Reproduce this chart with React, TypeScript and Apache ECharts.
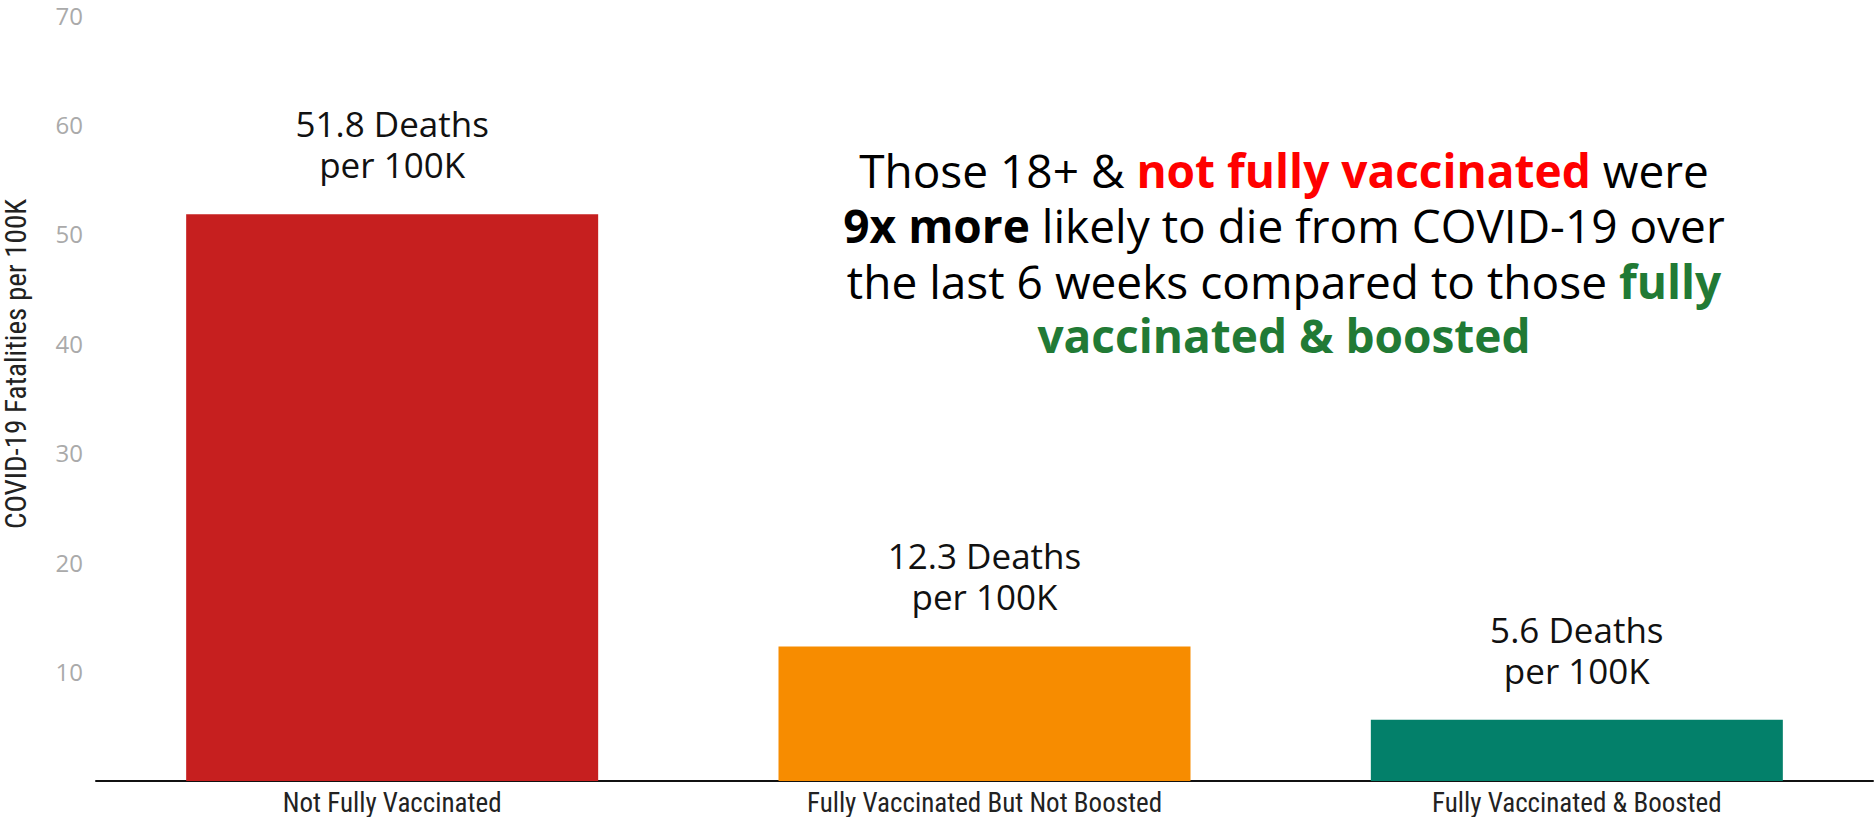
import React, { useEffect, useRef } from "react";
import * as echarts from "echarts";

const categories = [
  "Not Fully Vaccinated",
  "Fully Vaccinated But Not Boosted",
  "Fully Vaccinated & Boosted",
];
const deathsPer100K = [51.8, 12.3, 5.6];
const barColors = ["#C61F1F", "#F78C00", "#03806A"];
const yTicks = { min: 0, max: 70, interval: 10 };
const yAxisTitle = "COVID-19 Fatalities per 100K";

const annotationLines = [
  [
    { t: "Those 18+ & ", s: "n" },
    { t: "not fully vaccinated", s: "r" },
    { t: " were", s: "n" },
  ],
  [
    { t: "9x more", s: "b" },
    { t: " likely to die from COVID-19 over", s: "n" },
  ],
  [
    { t: "the last 6 weeks compared to those ", s: "n" },
    { t: "fully", s: "g" },
  ],
  [{ t: "vaccinated & boosted", s: "g" }],
];

const labelFont = "'Open Sans', 'DejaVu Sans', sans-serif";
const condFont = "'Roboto Condensed', 'Liberation Sans Narrow', Roboto, sans-serif";

export default function App() {
  const ref = useRef<HTMLDivElement>(null);
  useEffect(() => {
    if (!ref.current) return;
    const chart = echarts.init(ref.current, undefined, { renderer: "svg" });
    const fs = 46;
    const lh = 52;
    const rich = {
      n: { fontFamily: labelFont, fontSize: fs, lineHeight: lh, fill: "#000", fontWeight: 400 },
      r: { fontFamily: labelFont, fontSize: fs, lineHeight: lh, fill: "#FF0000", fontWeight: 700 },
      b: { fontFamily: labelFont, fontSize: fs, lineHeight: lh, fill: "#000", fontWeight: 700 },
      g: { fontFamily: labelFont, fontSize: fs, lineHeight: lh, fill: "#217A35", fontWeight: 700 },
    };
    const lineY = [170, 225, 281, 335];
    const graphics: any[] = annotationLines.map((line, i) => ({
      type: "text",
      x: 1284,
      y: lineY[i],
      style: {
        text: line.map((seg) => `{${seg.s}|${seg.t}}`).join(""),
        rich,
        align: "center",
        verticalAlign: "middle",
      },
    }));
    graphics.push({
      type: "text",
      x: 16,
      y: 364,
      rotation: Math.PI / 2,
      style: {
        text: yAxisTitle,
        fill: "#222",
        fontFamily: condFont,
        fontSize: 29,
        align: "center",
        verticalAlign: "middle",
      },
    });
    chart.setOption({
      animation: false,
      grid: { left: 96, right: 1, top: 15, bottom: 36, outerBoundsMode: "none", containLabel: false },
      xAxis: {
        type: "category",
        data: categories,
        axisLine: { show: true, lineStyle: { color: "#111", width: 2 } },
        axisTick: { show: false },
        axisLabel: {
          color: "#222",
          fontFamily: condFont,
          fontSize: 27,
          margin: 8,
          interval: 0,
        },
      },
      yAxis: {
        type: "value",
        min: yTicks.min,
        max: yTicks.max,
        interval: yTicks.interval,
        splitLine: { show: false },
        axisLine: { show: false },
        axisTick: { show: false },
        axisLabel: {
          color: "#AAAAAA",
          fontFamily: labelFont,
          fontSize: 24,
          margin: 13,
          formatter: (v: number) => (v === 0 ? "" : String(v)),
        },
      },
      series: [
        {
          type: "bar",
          barWidth: 412,
          data: deathsPer100K.map((v, i) => ({
            value: v,
            itemStyle: { color: barColors[i] },
          })),
          label: {
            show: true,
            position: "top",
            distance: 29,
            formatter: (p: any) => `${p.value} Deaths\nper 100K`,
            color: "#111",
            fontFamily: labelFont,
            fontSize: 35,
            lineHeight: 41,
            align: "center",
          },
        },
      ],
      graphic: graphics,
    });
    return () => chart.dispose();
  }, []);
  return (
    <div
      ref={ref}
      style={{ position: "fixed", left: 0, top: 0, width: 1874, height: 817, background: "#fff" }}
    />
  );
}
